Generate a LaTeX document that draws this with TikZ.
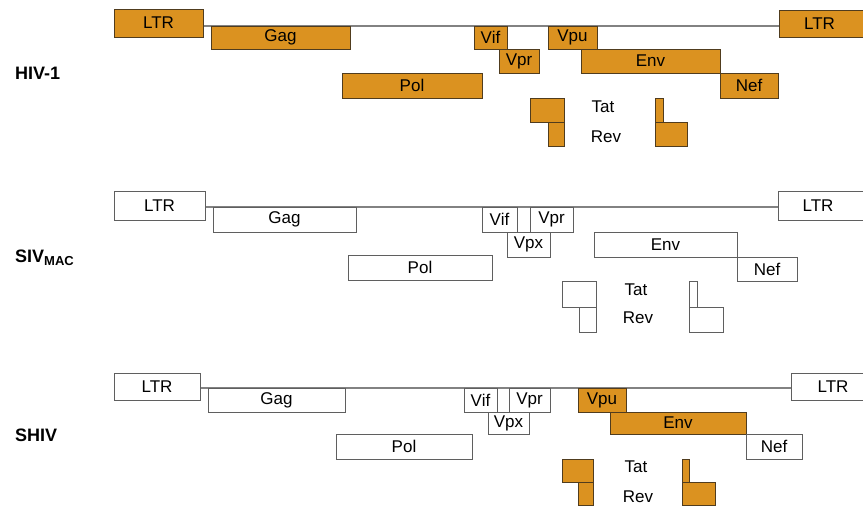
\documentclass[tikz,border=0pt]{standalone}
\usepackage{fontspec}
\setmainfont{Liberation Sans}
\usetikzlibrary{backgrounds}

\definecolor{geneorange}{RGB}{219,146,32}
\definecolor{orangeedge}{RGB}{80,60,30}
\definecolor{greyedge}{RGB}{95,95,95}
\definecolor{backbonegrey}{RGB}{130,130,130}

% one gene box: style, name, x1, y1, x2, y2, label
\newcommand{\genebox}[7]{%
  \node[#1, minimum width={(#5-#3)*1pt}, minimum height={(#6-#4)*1pt}] (#2) at ({(#3+#5)/2},{(#4+#6)/2}) {#7};}

\begin{document}
\begin{tikzpicture}[x=1pt, y=-1pt, line cap=butt, line join=miter,
    box/.style={draw, rectangle, inner sep=0pt, outer sep=0pt, line width=0.9pt,
      font=\fontsize{17}{19}\selectfont},
    hiv/.style={box, draw=orangeedge, fill=geneorange},
    siv/.style={box, draw=greyedge, fill=white},
    backbone/.style={draw=backbonegrey, line width=1.1pt},
    virus/.style={anchor=west, inner sep=0pt, font=\fontsize{18}{20}\selectfont\bfseries},
    word/.style={inner sep=0pt, font=\fontsize{17}{19}\selectfont}]
			\useasboundingbox (0,0) rectangle (863,508);
			\clip (0,0) rectangle (863,508);
			% HIV-1
			\node[virus] (hivname) at (15,73) {HIV-1};
			\genebox{hiv}{ltrA}{114}{9}{203}{37}{LTR}
			\genebox{hiv}{gagA}{211}{26}{350}{49}{Gag}
			\genebox{hiv}{polA}{342}{73}{482}{98}{Pol}
			\genebox{hiv}{vifA}{474}{26}{507}{49}{Vif}
			\genebox{hiv}{vprA}{499}{49}{539}{73}{Vpr}
			\genebox{hiv}{vpuA}{548}{26}{597}{49}{Vpu}
			\genebox{hiv}{envA}{581}{49}{720}{73}{Env}
			\genebox{hiv}{nefA}{720}{73}{778}{98}{Nef}
			\genebox{hiv}{ltrAr}{779}{10}{880}{37}{\hspace*{-20pt}LTR}
			\genebox{hiv}{tatA}{530}{98}{564}{122}{}
			\genebox{hiv}{revA}{548}{122}{564}{146}{}
			\genebox{hiv}{tatAr}{655}{98}{663}{122}{}
			\genebox{hiv}{revAr}{655}{122}{687}{146}{}
			\node[word] (tatAlab) at (603,107) {Tat};
			\node[word] (revAlab) at (606,137) {Rev};
			\begin{pgfonlayer}{background}
				\draw[backbone] (ltrA.east |- gagA.north) -- (ltrAr.west |- gagA.north);
			\end{pgfonlayer}
			% SIVmac
			\node[virus] (sivname) at (15,258) {SIV\raisebox{-2.5pt}{\fontsize{13}{14}\selectfont MAC}};
			\genebox{siv}{ltrB}{114}{191}{205}{220}{LTR}
			\genebox{siv}{gagB}{213}{207}{356}{232}{Gag}
			\genebox{siv}{polB}{348}{255}{492}{280}{Pol}
			\genebox{siv}{vifB}{482}{207}{517}{232}{Vif}
			\genebox{siv}{vprB}{530}{207}{573}{232}{Vpr}
			\genebox{siv}{vpxB}{507}{232}{550}{257}{Vpx}
			\genebox{siv}{envB}{594}{232}{737}{257}{Env}
			\genebox{siv}{nefB}{737}{257}{797}{281}{Nef}
			\genebox{siv}{ltrBr}{778}{191}{880}{220}{\hspace*{-22pt}LTR}
			\genebox{siv}{tatB}{562}{281}{596}{307}{}
			\genebox{siv}{revB}{579}{307}{596}{332}{}
			\genebox{siv}{tatBr}{689}{281}{697}{307}{}
			\genebox{siv}{revBr}{689}{307}{723}{332}{}
			\node[word] (tatBlab) at (636,290) {Tat};
			\node[word] (revBlab) at (638,318) {Rev};
			\begin{pgfonlayer}{background}
				\draw[backbone] (ltrB.east |- gagB.north) -- (ltrBr.west |- gagB.north);
			\end{pgfonlayer}
			% SHIV
			\node[virus] (shivname) at (15,435) {SHIV};
			\genebox{siv}{ltrC}{114}{373}{200}{400}{LTR}
			\genebox{siv}{gagC}{208}{388}{345}{412}{Gag}
			\genebox{siv}{polC}{336}{434}{472}{459}{Pol}
			\genebox{siv}{vifC}{464}{388}{497}{412}{Vif}
			\genebox{siv}{vprC}{509}{388}{550}{412}{Vpr}
			\genebox{siv}{vpxC}{488}{412}{529}{434}{Vpx}
			\genebox{hiv}{vpuC}{578}{388}{626}{412}{Vpu}
			\genebox{hiv}{envC}{610}{412}{746}{434}{Env}
			\genebox{siv}{nefC}{746}{434}{802}{459}{Nef}
			\genebox{siv}{ltrCr}{791}{373}{890}{400}{\hspace*{-15pt}LTR}
			\genebox{hiv}{tatC}{562}{459}{593}{482}{}
			\genebox{hiv}{revC}{578}{482}{593}{505}{}
			\genebox{hiv}{tatCr}{682}{459}{689}{482}{}
			\genebox{hiv}{revCr}{682}{482}{715}{505}{}
			\node[word] (tatClab) at (636,467) {Tat};
			\node[word] (revClab) at (638,497) {Rev};
			\begin{pgfonlayer}{background}
				\draw[backbone] (ltrC.east |- gagC.north) -- (ltrCr.west |- gagC.north);
			\end{pgfonlayer}
\end{tikzpicture}
\end{document}
